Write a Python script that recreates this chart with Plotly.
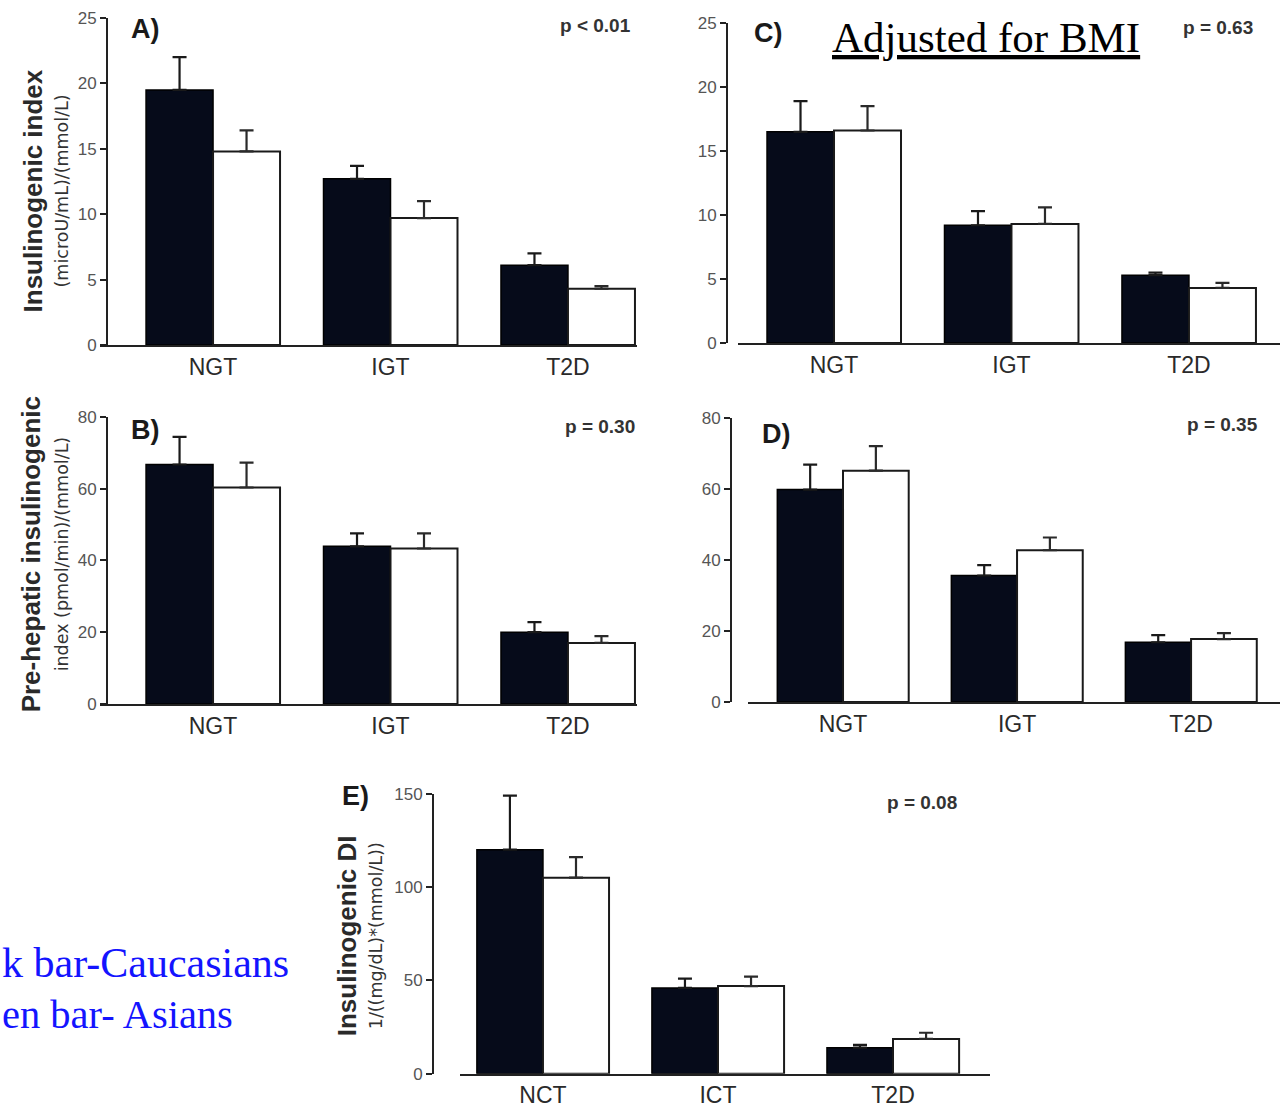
import plotly.graph_objects as go

W, H = 1280, 1109

# ---- data -------------------------------------------------------------
groups_main = ["NGT", "IGT", "T2D"]
groups_e = ["NCT", "ICT", "T2D"]

# A) Insulinogenic index
a_cauc = [19.5, 12.7, 6.1]
a_cauc_sem = [2.5, 1.0, 0.9]
a_asian = [14.8, 9.7, 4.3]
a_asian_sem = [1.6, 1.3, 0.2]

# B) Pre-hepatic insulinogenic index
b_cauc = [66.7, 43.9, 20.0]
b_cauc_sem = [7.7, 3.6, 2.8]
b_asian = [60.3, 43.3, 17.0]
b_asian_sem = [6.9, 4.2, 1.9]

# C) Insulinogenic index, adjusted for BMI
c_cauc = [16.5, 9.2, 5.3]
c_cauc_sem = [2.4, 1.1, 0.2]
c_asian = [16.6, 9.3, 4.3]
c_asian_sem = [1.9, 1.3, 0.4]

# D) Pre-hepatic insulinogenic index, adjusted for BMI
d_cauc = [59.8, 35.6, 16.8]
d_cauc_sem = [7.0, 2.9, 2.0]
d_asian = [65.1, 42.7, 17.7]
d_asian_sem = [6.9, 3.6, 1.7]

# E) Insulinogenic disposition index
e_cauc = [120.0, 46.0, 14.0]
e_cauc_sem = [29.0, 5.0, 1.5]
e_asian = [105.0, 47.0, 18.7]
e_asian_sem = [11.0, 5.0, 3.3]

p_labels = ["p < 0.01", "p = 0.30", "p = 0.63", "p = 0.35", "p = 0.08"]
panel_tags = ["A)", "B)", "C)", "D)", "E)"]


def fx(px):
    return px / W


# the page sits 8px down and is fitted to the window height
V_OFF, V_SCALE = 8.0, 0.9858


def fy(py):
    return 1 - ((py - V_OFF) / V_SCALE) / H


fig = go.Figure()

# layout geometry of each panel (pixels)
panels = [
    dict(tag=panel_tags[0], p=p_labels[0], cats=groups_main, blk=a_cauc, blk_e=a_cauc_sem,
         wht=a_asian, wht_e=a_asian_sem, ymax=25, dtick=5,
         xl=100, xr=637, yax=107, y0=345, y1=17, xrange=[-0.637, 2.389],
         tag_xy=(145, 28), p_xy=(595, 25)),
    dict(tag=panel_tags[1], p=p_labels[1], cats=groups_main, blk=b_cauc, blk_e=b_cauc_sem,
         wht=b_asian, wht_e=b_asian_sem, ymax=80, dtick=20,
         xl=100, xr=637, yax=107, y0=705, y1=417, xrange=[-0.637, 2.389],
         tag_xy=(145, 430), p_xy=(600, 427)),
    dict(tag=panel_tags[2], p=p_labels[2], cats=groups_main, blk=c_cauc, blk_e=c_cauc_sem,
         wht=c_asian, wht_e=c_asian_sem, ymax=25, dtick=5,
         xl=738, xr=1280, yax=727, y0=343, y1=22, xrange=[-0.541, 2.513],
         tag_xy=(768, 32), p_xy=(1218, 27)),
    dict(tag=panel_tags[3], p=p_labels[3], cats=groups_main, blk=d_cauc, blk_e=d_cauc_sem,
         wht=d_asian, wht_e=d_asian_sem, ymax=80, dtick=20,
         xl=748, xr=1280, yax=731, y0=703, y1=418, xrange=[-0.546, 2.511],
         tag_xy=(776, 434), p_xy=(1222, 425)),
    dict(tag=panel_tags[4], p=p_labels[4], cats=groups_e, blk=e_cauc, blk_e=e_cauc_sem,
         wht=e_asian, wht_e=e_asian_sem, ymax=150, dtick=50,
         xl=460, xr=990, yax=433, y0=1076, y1=795, xrange=[-0.474, 2.554],
         tag_xy=(355, 797), p_xy=(922, 804)),
]

BAR_BLACK = "#060b1a"
AXIS_COL = "#222222"
SANS = "Liberation Sans, Arial, sans-serif"
TICK_FONT = dict(family=SANS, size=17, color="#555555")
CAT_FONT = dict(family=SANS, size=23, color="#2a2a2a")

annotations = []
for i, pn in enumerate(panels, start=1):
    xa = "x" if i == 1 else f"x{i}"
    ya = "y" if i == 1 else f"y{i}"
    xkey = "xaxis" if i == 1 else f"xaxis{i}"
    ykey = "yaxis" if i == 1 else f"yaxis{i}"

    fig.add_trace(go.Bar(
        x=pn["cats"], y=pn["blk"], xaxis=xa, yaxis=ya,
        offsetgroup="cauc", name="Caucasians",
        marker=dict(color=BAR_BLACK, line=dict(color="#000000", width=1.5)),
        error_y=dict(type="data", symmetric=False, array=pn["blk_e"],
                     arrayminus=[0] * len(pn["blk_e"]),
                     color="#1a1a1a", thickness=2.2, width=7),
        showlegend=False,
    ))
    fig.add_trace(go.Bar(
        x=pn["cats"], y=pn["wht"], xaxis=xa, yaxis=ya,
        offsetgroup="asian", name="Asians",
        marker=dict(color="#ffffff", line=dict(color="#1a1a1a", width=2)),
        error_y=dict(type="data", symmetric=False, array=pn["wht_e"],
                     arrayminus=[0] * len(pn["wht_e"]),
                     color="#2a2a2a", thickness=2.2, width=7),
        showlegend=False,
    ))

    fig.update_layout(**{
        xkey: dict(
            domain=[fx(pn["xl"]), fx(pn["xr"])], anchor=ya, type="category",
            range=pn["xrange"], showline=True, linecolor=AXIS_COL, linewidth=2,
            ticks="", showgrid=False, zeroline=False, tickfont=CAT_FONT,
            fixedrange=True,
        ),
        ykey: dict(
            domain=[fy(pn["y0"]), fy(pn["y1"])], anchor="free", position=fx(pn["yax"]),
            range=[0, pn["ymax"]], dtick=pn["dtick"], tick0=0,
            showline=True, linecolor=AXIS_COL, linewidth=2,
            ticks="outside", ticklen=6, tickwidth=1.5, tickcolor=AXIS_COL,
            showgrid=False, zeroline=False, tickfont=TICK_FONT, fixedrange=True,
        ),
    })

    annotations.append(dict(
        x=fx(pn["tag_xy"][0]), y=fy(pn["tag_xy"][1]), xref="paper", yref="paper",
        text=f"<b>{pn['tag']}</b>", showarrow=False, xanchor="center", yanchor="middle",
        font=dict(family=SANS, size=27, color="#1a1a1a"),
    ))
    annotations.append(dict(
        x=fx(pn["p_xy"][0]), y=fy(pn["p_xy"][1]), xref="paper", yref="paper",
        text=f"<b>{pn['p']}</b>", showarrow=False, xanchor="center", yanchor="middle",
        font=dict(family=SANS, size=19, color="#333333"),
    ))

# y-axis titles (bold main line + small units line)
y_titles = [
    ("Insulinogenic index", "(microU/mL)/(mmol/L)", 33, 62, 191),
    ("Pre-hepatic insulinogenic", "index (pmol/min)/(mmol/L)", 31, 62, 555),
    ("Insulinogenic DI", "1/((mg/dL)*(mmol/L))", 347, 376, 938),
]
for big, small, xb, xs, yc in y_titles:
    annotations.append(dict(
        x=fx(xb), y=fy(yc), xref="paper", yref="paper", text=f"<b>{big}</b>",
        textangle=-90, showarrow=False, xanchor="center", yanchor="middle",
        font=dict(family=SANS, size=26, color="#2a2a2a"),
    ))
    annotations.append(dict(
        x=fx(xs), y=fy(yc), xref="paper", yref="paper", text=small,
        textangle=-90, showarrow=False, xanchor="center", yanchor="middle",
        font=dict(family="DejaVu Sans, sans-serif", size=17.5, color="#333333"),
    ))

# heading for the BMI-adjusted column
annotations.append(dict(
    x=fx(986), y=fy(37), xref="paper", yref="paper", text="<u>Adjusted for BMI</u>",
    showarrow=False, xanchor="center", yanchor="middle",
    font=dict(family="Liberation Serif, Times New Roman, serif", size=43, color="#000000"),
))

# key for bar colours
for txt, size, yc in [("k bar-Caucasians", 42, 965), ("en bar- Asians", 40.5, 1017)]:
    annotations.append(dict(
        x=0, y=fy(yc), xref="paper", yref="paper", text=txt,
        showarrow=False, xanchor="left", yanchor="middle",
        font=dict(family="Liberation Serif, Times New Roman, serif", size=size, color="#1414ff"),
    ))

fig.update_layout(
    width=W, height=H, margin=dict(l=0, r=0, t=0, b=0),
    paper_bgcolor="white", plot_bgcolor="white",
    barmode="group", bargap=0.245, bargroupgap=0,
    annotations=annotations,
)

fig.write_html("out.html")
